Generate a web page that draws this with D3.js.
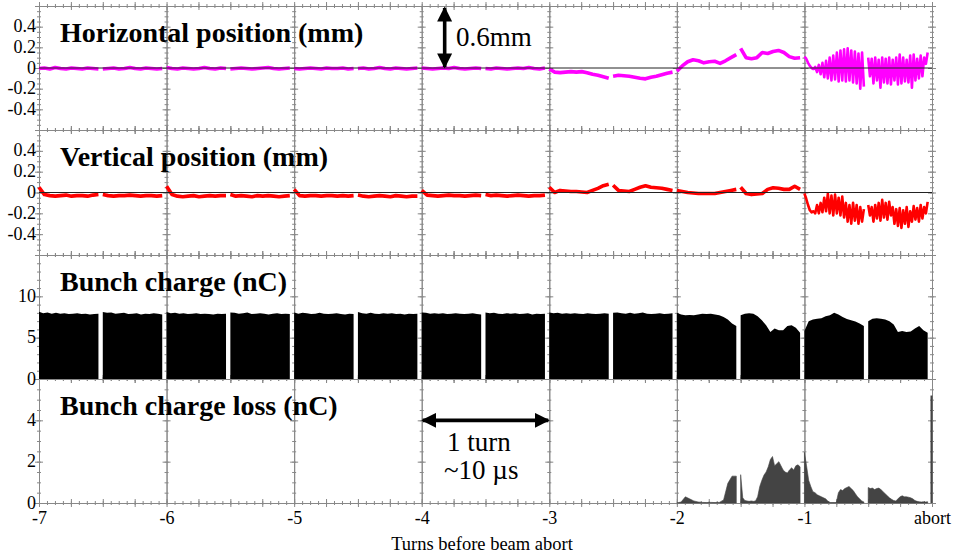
<!DOCTYPE html>
<html lang="en">
<head>
<meta charset="UTF-8">
<title>Beam position and bunch charge before abort</title>
<script src="https://cdn.jsdelivr.net/npm/d3@7"></script>
<style>
  body { margin: 0; background: #fff; }
  svg { display: block; font-family: "Liberation Serif", "Times New Roman", serif; }
  .frame path, .frame line { stroke: #888; }
  .title { font-weight: bold; font-size: 28px; }
</style>
</head>
<body>
<svg width="955" height="558"></svg>
<script>
// bunch trains: two per turn, each ~0.466 turn long
const trainStarts = [-7, -6.5, -6, -5.5, -5, -4.5, -4, -3.5, -3, -2.5, -2, -1.5, -1, -0.5];
const trainLength = 0.466;

// horizontal position (mm), values spread evenly along each train
const horizontal = [
  [-0.005, 0.0, -0.01, 0.005, -0.005, -0.01, 0.0, -0.005, -0.01, 0.0, -0.005, -0.01],
  [-0.01, -0.005, 0.0, -0.01, -0.005, 0.005, -0.005, -0.01, 0.0, -0.005, -0.01, -0.005],
  [0.005, -0.005, -0.01, 0.0, -0.005, -0.01, -0.005, 0.005, -0.005, -0.01, 0.0, -0.005],
  [-0.01, -0.005, 0.0, -0.005, -0.01, -0.005, 0.0, 0.005, -0.005, -0.01, -0.005, 0.0],
  [-0.005, -0.01, -0.005, 0.0, -0.005, -0.01, 0.0, -0.005, -0.005, 0.0, -0.01, -0.005],
  [-0.005, 0.0, -0.01, -0.005, 0.005, -0.005, -0.01, 0.0, -0.005, -0.01, -0.005, 0.0],
  [0.0, -0.005, -0.01, -0.005, 0.0, -0.005, 0.005, -0.005, -0.01, -0.005, 0.0, -0.005],
  [-0.005, -0.01, 0.0, -0.005, -0.01, -0.005, 0.0, -0.005, 0.005, -0.005, -0.01, 0.0],
  [-0.01, -0.04, -0.045, -0.04, -0.035, -0.04, -0.035, -0.045, -0.06, -0.07, -0.085, -0.1],
  [-0.08, -0.07, -0.075, -0.08, -0.09, -0.1, -0.105, -0.09, -0.08, -0.065, -0.05, -0.04],
  [-0.03, 0.02, 0.06, 0.08, 0.07, 0.05, 0.06, 0.065, 0.045, 0.07, 0.1, 0.13],
  [0.19, 0.1, 0.09, 0.1, 0.15, 0.14, 0.16, 0.17, 0.15, 0.11, 0.095, 0.1],
  [0.11, 0.09, 0.05, 0.02, 0.0, -0.01, 0.01, -0.04, 0.03, -0.06, 0.05, -0.09, 0.07, -0.1, 0.1, -0.12, 0.12,
   -0.11, 0.15, -0.13, 0.17, -0.12, 0.18, -0.13, 0.19, -0.12, 0.17, -0.14, 0.16, -0.15, 0.14, -0.2, 0.15, -0.18],
  [0.1, -0.08, 0.09, -0.15, 0.1, -0.12, 0.08, -0.19, 0.1, -0.14, 0.09, -0.15, 0.1, -0.16, 0.08, -0.12, 0.1, -0.16,
   0.13, -0.15, 0.1, -0.13, 0.08, -0.14, 0.12, -0.19, 0.13, -0.12, 0.09, -0.1, 0.12, -0.08, 0.1, 0.04, 0.15]
];

// vertical position (mm)
const vertical = [
  [0.05, -0.02, -0.03, -0.035, -0.03, -0.025, -0.035, -0.03, -0.03, -0.035, -0.025, -0.02],
  [-0.02, -0.03, -0.035, -0.03, -0.03, -0.025, -0.03, -0.035, -0.03, -0.03, -0.035, -0.03],
  [0.06, -0.02, -0.035, -0.04, -0.035, -0.03, -0.04, -0.035, -0.03, -0.035, -0.03, -0.03],
  [-0.02, -0.035, -0.03, -0.035, -0.04, -0.03, -0.035, -0.03, -0.035, -0.04, -0.035, -0.03],
  [0.03, -0.03, -0.035, -0.03, -0.03, -0.035, -0.03, -0.03, -0.035, -0.03, -0.035, -0.03],
  [-0.025, -0.035, -0.04, -0.035, -0.03, -0.035, -0.04, -0.03, -0.035, -0.04, -0.035, -0.035],
  [0.02, -0.025, -0.03, -0.035, -0.03, -0.025, -0.03, -0.03, -0.035, -0.03, -0.025, -0.03],
  [-0.02, -0.03, -0.025, -0.03, -0.035, -0.03, -0.025, -0.03, -0.035, -0.03, -0.03, -0.025],
  [0.05, 0.0, 0.02, 0.015, 0.01, 0.01, 0.005, 0.0, 0.02, 0.04, 0.065, 0.08],
  [0.07, 0.02, 0.015, 0.01, 0.03, 0.05, 0.065, 0.05, 0.045, 0.04, 0.03, 0.02],
  [0.02, 0.01, 0.0, -0.005, -0.01, -0.01, -0.01, -0.01, 0.0, 0.01, 0.02, 0.03],
  [0.05, -0.01, -0.02, -0.015, -0.01, 0.03, 0.045, 0.04, 0.03, 0.03, 0.06, 0.03],
  [-0.01, -0.06, -0.12, -0.17, -0.19, -0.18, -0.2, -0.12, -0.2, -0.1, -0.19, -0.05, -0.18, -0.01, -0.2, -0.03, -0.22,
   -0.02, -0.2, -0.05, -0.22, -0.04, -0.24, -0.1, -0.28, -0.12, -0.3, -0.1, -0.27, -0.12, -0.3, -0.14, -0.28, -0.16],
  [-0.12, -0.22, -0.14, -0.28, -0.12, -0.25, -0.1, -0.27, -0.07, -0.24, -0.1, -0.26, -0.09, -0.22, -0.14, -0.3, -0.16,
   -0.32, -0.15, -0.34, -0.17, -0.3, -0.14, -0.33, -0.18, -0.28, -0.13, -0.26, -0.15, -0.28, -0.12, -0.25, -0.14, -0.2, -0.09]
];

// bunch charge (nC)
const charge = [
  [8.15, 7.95, 8.05, 7.9, 8.0, 7.9, 7.95, 7.85, 7.9, 7.95, 7.85, 7.9, 7.8, 7.85, 7.9],
  [8.1, 8.0, 8.05, 7.9, 7.95, 8.0, 7.85, 7.9, 7.95, 7.8, 7.9, 7.85, 7.95, 7.9, 7.8],
  [8.1, 7.95, 8.0, 7.9, 7.95, 7.85, 7.9, 7.95, 7.85, 7.9, 7.85, 7.8, 7.9, 7.85, 7.9],
  [8.05, 8.0, 7.9, 7.95, 8.05, 7.85, 7.9, 7.95, 7.9, 7.8, 7.9, 7.95, 7.85, 7.9, 7.85],
  [8.05, 7.9, 8.0, 7.95, 7.85, 7.9, 8.0, 7.9, 7.85, 7.9, 7.95, 7.85, 7.8, 7.9, 7.85],
  [8.1, 7.95, 7.9, 8.0, 7.9, 7.85, 7.95, 7.9, 7.95, 7.85, 7.9, 7.8, 7.9, 7.85, 7.9],
  [8.05, 8.0, 7.9, 7.95, 7.9, 7.95, 7.85, 7.9, 7.95, 7.9, 7.85, 7.9, 7.95, 7.85, 7.8],
  [8.05, 7.95, 8.0, 7.9, 7.85, 7.95, 7.9, 7.95, 7.85, 7.9, 7.95, 7.8, 7.9, 7.85, 7.9],
  [8.05, 7.95, 8.0, 7.9, 7.95, 7.9, 7.95, 7.9, 7.85, 7.95, 7.9, 7.85, 7.9, 7.95, 7.9],
  [8.0, 8.05, 7.95, 7.9, 8.0, 7.9, 7.95, 8.05, 7.9, 7.85, 7.9, 7.95, 7.85, 7.9, 7.95],
  [8.0, 7.8, 7.7, 7.75, 7.7, 7.8, 7.9, 7.85, 7.9, 7.8, 7.7, 7.5, 7.2, 6.7, 6.4],
  [7.7, 7.9, 7.95, 7.9, 7.6, 7.1, 6.5, 5.7, 6.1, 5.9, 5.9, 6.4, 6.5, 6.2, 5.6],
  [5.8, 7.0, 7.2, 7.3, 7.35, 7.6, 7.7, 8.0, 7.8, 7.5, 7.25, 7.1, 6.95, 6.7, 6.4],
  [7.0, 7.3, 7.35, 7.3, 7.2, 7.0, 6.6, 5.7, 5.8, 5.7, 5.75, 6.1, 6.4, 5.9, 5.6]
];

// bunch charge loss (nC); nothing lost before turn -2
const loss = [
  [], [], [], [], [], [], [], [], [], [],
  [0.0, 0.05, 0.3, 0.2, 0.1, 0.05, 0.03, 0.02, 0.03, 0.02, 0.03, 0.15, 0.95, 1.3, 1.3],
  [1.37, 0.25, 0.12, 0.1, 0.08, 0.1, 0.08, 0.1, 0.3, 0.8, 1.1, 1.35, 1.5, 1.75, 2.1, 2.25, 1.8, 1.9, 2.0,
   1.8, 1.6, 1.5, 1.45, 1.6, 1.7, 1.6, 1.8, 1.85, 1.75],
  [2.45, 1.8, 1.1, 0.8, 0.55, 0.5, 0.4, 0.35, 0.3, 0.25, 0.2, 0.1, 0.02, 0.02, 0.02, 0.02, 0.5, 0.65, 0.6,
   0.7, 0.75, 0.8, 0.7, 0.6, 0.45, 0.3, 0.2, 0.1, 0.05],
  [0.75, 0.7, 0.72, 0.65, 0.7, 0.72, 0.65, 0.55, 0.45, 0.35, 0.25, 0.18, 0.12, 0.1, 0.2, 0.3, 0.35, 0.3, 0.3,
   0.28, 0.25, 0.2, 0.12, 0.08, 0.06, 0.05, 0.06, 0.05, 0.06]
];
const abortLoss = 5.2;

// axis ticks
const xTicks = [-7, -6, -5, -4, -3, -2, -1, 0];
const xTickLabels = ["-7", "-6", "-5", "-4", "-3", "-2", "-1", "abort"];
const posTicks = [-0.4, -0.2, 0, 0.2, 0.4];
const chargeTicks = [0, 5, 10];
const lossTicks = [0, 2, 4];

const serif = '"Liberation Serif", "Times New Roman", serif';
const svg = d3.select("svg");
const x = d3.scaleLinear().domain([-7, 0]).range([39, 932]);

const panels = [
  { title: "Horizontal position (mm)", top: 6, bottom: 130, domain: [-0.6, 0.6], ticks: posTicks, minor: 0.05, major: 0.2, zero: true },
  { title: "Vertical position (mm)", top: 130, bottom: 255, domain: [-0.6, 0.6], ticks: posTicks, minor: 0.05, major: 0.2, zero: true },
  { title: "Bunch charge (nC)", top: 255, bottom: 379, domain: [0, 15], ticks: chargeTicks, minor: 1, major: 5 },
  { title: "Bunch charge loss (nC)", top: 379, bottom: 503, domain: [0, 6], ticks: lossTicks, minor: 0.5, major: 2 }
];
panels.forEach(p => { p.y = d3.scaleLinear().domain(p.domain).range([p.bottom, p.top]); });

// turn each train's value list into [t, v] points
const trainPoints = (vals, k) => vals.map((v, j) => [trainStarts[k] + j * trainLength / (vals.length - 1), v]);

const xMajor = d3.range(-7, 0.0001, 0.25);
const xMinor = d3.range(-7, 0.0001, 1 / 16);

// ticks that cross the axis line on both sides
function crossTicks(sel, size, vertical) {
  sel.selectAll(".tick line")
    .attr(vertical ? "x1" : "y1", size)
    .attr(vertical ? "x2" : "y2", -size);
}

// d3 axes default to a small sans font; use the chart's serif instead
function serifLabels(g) {
  g.attr("font-family", serif).attr("font-size", 18);
  g.selectAll("text").style("font-family", serif).style("font-size", "18px").attr("fill", "#000");
}

const frame = svg.append("g").attr("class", "frame");

panels.forEach(p => {
  const yMinor = d3.range(p.domain[0], p.domain[1] + 1e-6, p.minor);
  const yMajor = d3.range(p.domain[0], p.domain[1] + 1e-6, p.major);

  // vertical lines at every turn, plus the left and right edges
  xTicks.forEach(t => {
    const gMinor = frame.append("g")
      .attr("transform", `translate(${x(t)},0)`)
      .call(d3.axisLeft(p.y).tickValues(yMinor).tickFormat("").tickSize(2).tickSizeOuter(0));
    crossTicks(gMinor, 2, true);
    const gMajor = frame.append("g")
      .attr("transform", `translate(${x(t)},0)`)
      .call(d3.axisLeft(p.y).tickValues(yMajor).tickFormat("").tickSize(4).tickSizeOuter(0));
    crossTicks(gMajor, 4, true);
  });

  // top and bottom edges
  [p.top, p.bottom].forEach(yy => {
    const a = frame.append("g").attr("transform", `translate(0,${yy})`)
      .call(d3.axisBottom(x).tickValues(xMinor).tickFormat("").tickSize(2).tickSizeOuter(0));
    crossTicks(a, 2, false);
    const b = frame.append("g").attr("transform", `translate(0,${yy})`)
      .call(d3.axisBottom(x).tickValues(xMajor).tickFormat("").tickSize(4).tickSizeOuter(0));
    crossTicks(b, 4, false);
  });

  // y labels
  svg.append("g")
    .attr("transform", `translate(${x(-7)},0)`)
    .call(d3.axisLeft(p.y).tickValues(p.ticks).tickFormat(d => String(d)).tickSize(0).tickPadding(3))
    .call(g => g.select(".domain").remove())
    .call(serifLabels)
    .selectAll("text").attr("dy", "0.28em");
});

// position traces; the oscillating trains are drawn thinner
const posLine = (p) => d3.line().x(d => x(d[0])).y(d => p.y(d[1]));
[[horizontal, "#ff00ff", panels[0]], [vertical, "#ff0000", panels[1]]].forEach(([series, color, p]) => {
  svg.append("g").selectAll("path")
    .data(series.map(trainPoints))
    .join("path")
    .attr("d", posLine(p))
    .attr("fill", "none")
    .attr("stroke", color)
    .attr("stroke-width", d => d.length > 20 ? 2.6 : 3.6)
    .attr("stroke-linejoin", "round");
});

// bunch charge fill
const pc = panels[2];
svg.append("g").selectAll("path")
  .data(charge.map(trainPoints))
  .join("path")
  .attr("d", d3.area().x(d => x(d[0])).y0(pc.y(0)).y1(d => pc.y(d[1])))
  .attr("fill", "#000");

// bunch charge loss fill
const pl = panels[3];
svg.append("g").selectAll("path")
  .data(loss.map(trainPoints).filter(d => d.length))
  .join("path")
  .attr("d", d3.area().x(d => x(d[0])).y0(pl.y(0)).y1(d => pl.y(d[1])))
  .attr("fill", "#444")
  .attr("stroke", "#444")
  .attr("stroke-width", 0.6);
svg.append("rect")
  .attr("x", x(0) - 1.5).attr("width", 2)
  .attr("y", pl.y(abortLoss)).attr("height", pl.y(0) - pl.y(abortLoss))
  .attr("fill", "#444");

// zero lines on the position panels
panels.filter(p => p.zero).forEach(p => {
  svg.append("line")
    .attr("x1", x(-7)).attr("x2", x(0))
    .attr("y1", p.y(0)).attr("y2", p.y(0))
    .attr("stroke", "#222").attr("stroke-width", 1);
});

// panel titles
panels.forEach(p => {
  svg.append("text").attr("class", "title")
    .attr("x", 60).attr("y", p.top + 36)
    .text(p.title);
});

// x axis labels
svg.append("g")
  .attr("transform", `translate(0,${pl.bottom})`)
  .call(d3.axisBottom(x).tickValues(xTicks).tickFormat((d, i) => xTickLabels[i]).tickSize(0).tickPadding(8))
  .call(g => g.select(".domain").remove())
  .call(serifLabels);

svg.append("text")
  .attr("x", 482).attr("y", 550)
  .attr("text-anchor", "middle")
  .attr("font-size", 18.5)
  .text("Turns before beam abort");

// annotations
const ph = panels[0];
const arrowX = x(-3.82);
const defs = svg.append("defs");
defs.append("marker")
  .attr("id", "head").attr("viewBox", "0 0 10 10")
  .attr("refX", 9).attr("refY", 5)
  .attr("markerWidth", 4.2).attr("markerHeight", 4.2)
  .attr("markerUnits", "strokeWidth")
  .attr("orient", "auto-start-reverse")
  .append("path").attr("d", "M0,0 L10,5 L0,10 Z").attr("fill", "#000");

svg.append("line")
  .attr("x1", arrowX).attr("x2", arrowX)
  .attr("y1", ph.y(0.6) + 2).attr("y2", ph.y(0) - 1)
  .attr("stroke", "#000").attr("stroke-width", 3.6)
  .attr("marker-start", "url(#head)").attr("marker-end", "url(#head)");
svg.append("text")
  .attr("x", 456).attr("y", 46)
  .attr("font-size", 27)
  .text("0.6mm");

svg.append("line")
  .attr("x1", x(-4) + 1).attr("x2", x(-3) - 1)
  .attr("y1", pl.y(4)).attr("y2", pl.y(4))
  .attr("stroke", "#000").attr("stroke-width", 3.6)
  .attr("marker-start", "url(#head)").attr("marker-end", "url(#head)");
svg.append("text")
  .attr("x", 447).attr("y", 451)
  .attr("font-size", 27)
  .text("1 turn");
svg.append("text")
  .attr("x", 444).attr("y", 479)
  .attr("font-size", 27)
  .text("~10 µs");
</script>
</body>
</html>
